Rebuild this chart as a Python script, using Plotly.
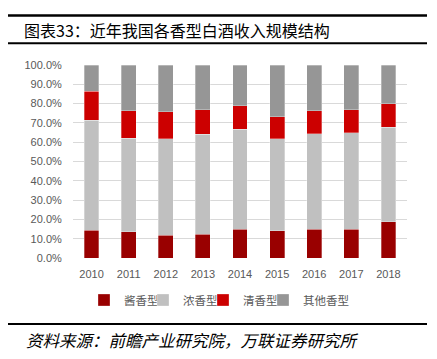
import plotly.graph_objects as go

years = ["2010", "2011", "2012", "2013", "2014", "2015", "2016", "2017", "2018"]
jiang = [14.4, 13.5, 11.8, 12.3, 15.0, 14.0, 14.9, 14.9, 18.8]
nong = [56.9, 48.5, 50.0, 51.8, 51.7, 47.7, 49.5, 50.0, 48.9]
qing = [15.2, 14.3, 14.0, 12.7, 12.2, 11.5, 11.9, 11.8, 12.2]
other = [13.5, 23.7, 24.2, 23.2, 21.1, 26.8, 23.7, 23.3, 20.1]

series_names = ["酱香型", "浓香型", "清香型", "其他香型"]
series_vals = [jiang, nong, qing, other]
colors = ["#990000", "#C0C0C0", "#CC0000", "#969696"]
legend_ids = ["legend", "legend2", "legend3", "legend4"]

fig = go.Figure()
for name, vals, c, lg in zip(series_names, series_vals, colors, legend_ids):
    fig.add_trace(go.Bar(
        x=years, y=[v / 100 for v in vals], name=name, legend=lg,
        marker=dict(color=c, line=dict(color="rgba(255,255,255,0.6)", width=0.5)),
        width=0.4,
    ))

font_cjk = "Noto Sans CJK SC"
W, H = 429, 351
L, T, PW, PH = 65, 57, 334, 193
bottom = T + PH

def py(pix):
    return (bottom - pix) / PH

def px(pix):
    return (pix - L) / PW

marker_centers = [96, 155, 215, 275]
legends = {}
for lg, mc in zip(legend_ids, marker_centers):
    legends[lg] = dict(orientation="h", x=px(mc - 20), xanchor="left", y=py(292), yanchor="middle",
                       font=dict(size=11.5, color="#595959"), itemwidth=30, bgcolor="rgba(0,0,0,0)")

fig.update_layout(
    barmode="stack",
    width=W, height=H,
    margin=dict(l=L, r=W - L - PW, t=T, b=H - T - PH),
    paper_bgcolor="white", plot_bgcolor="white",
    font=dict(family=font_cjk, color="#595959", size=11),
    showlegend=True,
    **legends,
    xaxis=dict(showgrid=False, showline=False, ticks="outside", ticklen=6, tickcolor="rgba(0,0,0,0)",
               tickfont=dict(size=11, color="#595959", family="Arial, Liberation Sans")),
    yaxis=dict(range=[0, 1.0], dtick=0.1, tickformat=".1%", showgrid=True, gridcolor="#D9D9D9",
               gridwidth=1, zeroline=False, showline=False, ticks="outside", ticklen=8,
               tickcolor="rgba(0,0,0,0)",
               tickfont=dict(size=11, color="#595959", family="Arial, Liberation Sans")),
    shapes=[
        dict(type="line", xref="paper", yref="paper", x0=px(0), x1=px(419), y0=py(7.5), y1=py(7.5),
             line=dict(color="black", width=2.5)),
        dict(type="line", xref="paper", yref="paper", x0=px(0), x1=px(419), y0=py(35.3), y1=py(35.3),
             line=dict(color="black", width=2)),
        dict(type="line", xref="paper", yref="paper", x0=px(0), x1=px(419), y0=py(316), y1=py(316),
             line=dict(color="black", width=2)),
    ],
    annotations=[
        dict(text="图表33：近年我国各香型白酒收入规模结构", xref="paper", yref="paper",
             x=px(14), y=py(21.5), xanchor="left", yanchor="middle", showarrow=False,
             font=dict(size=16, color="black", family=font_cjk)),
        dict(text="<i>资料来源：前瞻产业研究院，万联证券研究所</i>", xref="paper", yref="paper",
             x=px(16), y=py(332), xanchor="left", yanchor="middle", showarrow=False,
             font=dict(size=16.5, color="black", family=font_cjk)),
    ],
)

fig.write_html("out.html")
